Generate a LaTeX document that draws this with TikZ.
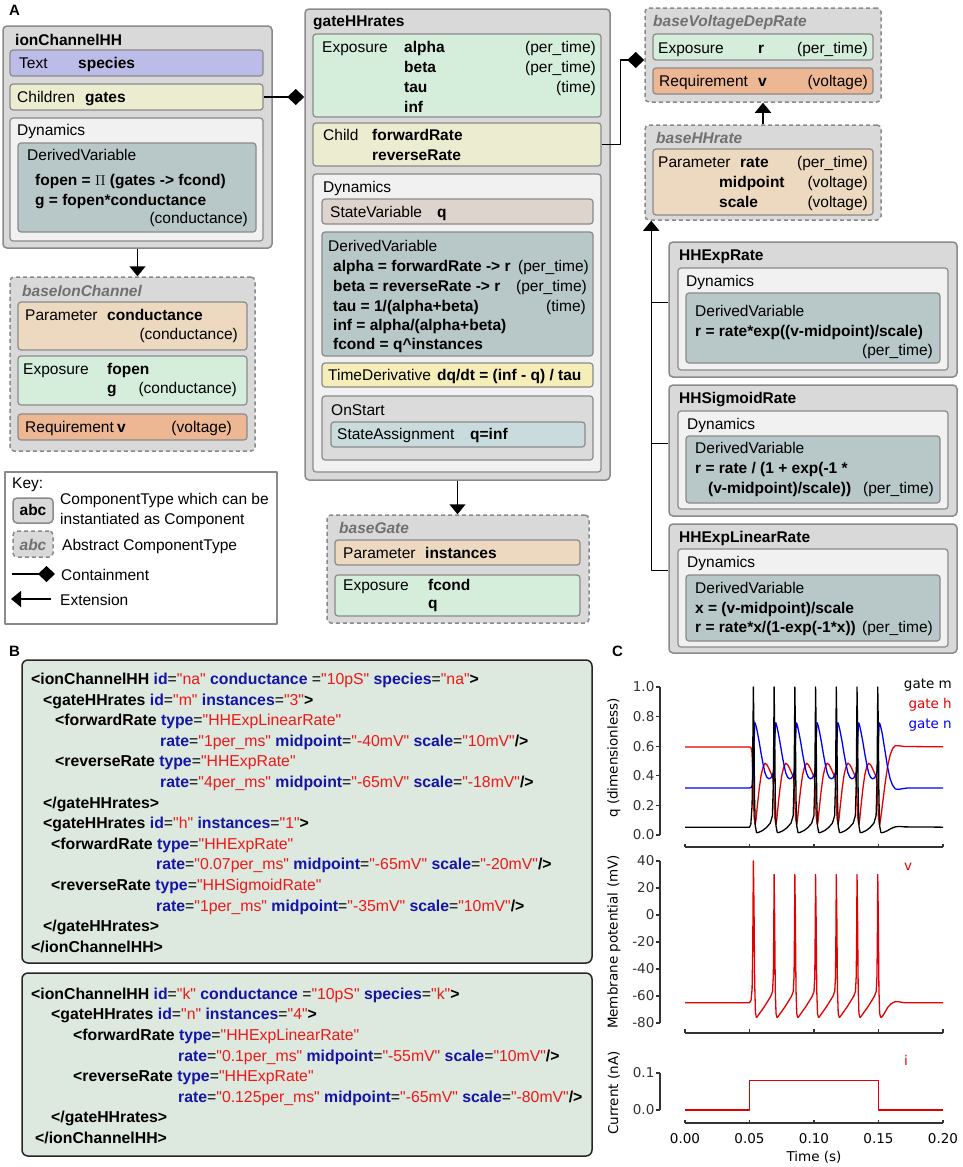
\documentclass[tikz,border=0pt]{standalone}
\usepackage{fontspec}
\setmainfont{Liberation Sans}[Ligatures=TeXOff]
\newfontfamily\plotfont{DejaVu Sans}
\usetikzlibrary{arrows.meta, fit, positioning}

\definecolor{boxfill}{RGB}{217,217,217}
\definecolor{boxline}{RGB}{138,138,138}
\definecolor{textbar}{RGB}{188,188,233}
\definecolor{childbar}{RGB}{236,236,208}
\definecolor{dynbox}{RGB}{241,241,241}
\definecolor{dvbox}{RGB}{184,199,199}
\definecolor{parbar}{RGB}{236,217,192}
\definecolor{expbar}{RGB}{213,238,220}
\definecolor{reqbar}{RGB}{236,183,146}
\definecolor{svbar}{RGB}{221,212,205}
\definecolor{tdbar}{RGB}{245,238,185}
\definecolor{osbox}{RGB}{219,219,219}
\definecolor{sabar}{RGB}{201,219,221}
\definecolor{codefill}{RGB}{221,232,222}
\definecolor{codeblue}{RGB}{20,20,165}
\definecolor{codered}{RGB}{235,25,25}
\definecolor{abstitle}{RGB}{112,112,112}
\definecolor{plotred}{RGB}{228,0,0}
\definecolor{plotblue}{RGB}{0,0,250}

\newcommand{\fs}{\fontsize{15.5}{18}\selectfont}
\newcommand{\cfs}{\fontsize{15.8}{18}\selectfont}
\newcommand{\pfs}{\plotfont\fontsize{13.5}{16}\selectfont}
\newcommand{\abst}[1]{\textcolor{abstitle}{\textbf{\textit{#1}}}}
\newcommand{\xtag}[1]{\textbf{#1}}
\newcommand{\xatt}[1]{\textcolor{codeblue}{\textbf{#1}}}
\newcommand{\xval}[1]{\textcolor{codered}{#1}}

% boxes and texts
\newcount\txn
\newcommand{\bx}[6]{\node[#2, fit={(#3,#4) (#5,#6)}] (#1) {};}
\newcommand{\tx}[3]{\global\advance\txn by 1 \node[txt] (tx\the\txn) at (#1,#2) {#3};}
\newcommand{\rtx}[3]{\global\advance\txn by 1 \node[rtxt] (tx\the\txn) at (#1,#2) {#3};}
\newcommand{\ctx}[3]{\global\advance\txn by 1 \node[ctxt] (tx\the\txn) at (#1,#2) {#3};}

\tikzset{
  comp/.style={draw=boxline, fill=boxfill, line width=1.5pt, rounded corners=4pt, inner sep=0pt},
  abstr/.style={comp, dash pattern=on 4pt off 3pt},
  bar/.style={draw=boxline, fill=#1, line width=1.2pt, rounded corners=3pt, inner sep=0pt},
  keybox/.style={draw=boxline, fill=white, line width=1.5pt, inner sep=0pt},
  codebox/.style={draw=black!85, fill=codefill, line width=1.5pt, rounded corners=6pt, inner sep=0pt},
  txt/.style={anchor=base west, inner sep=0pt, font=\fs},
  rtxt/.style={anchor=base east, inner sep=0pt, font=\fs},
  ctxt/.style={anchor=base west, inner sep=0pt, font=\cfs},
  lab/.style={anchor=base west, inner sep=0pt, font=\fontsize{15}{17}\selectfont\bfseries},
  plab/.style={inner sep=0pt, font=\pfs},
  conn/.style={line width=1.5pt},
  contain/.style={conn, -{Diamond[length=17pt,width=16pt]}},
  extend/.style={conn, -{Triangle[length=10pt,width=16pt]}},
  axis/.style={line width=1.2pt, black!80},
  trace/.style={line width=1.3pt, line join=round},
}

\begin{document}
\begin{tikzpicture}[x=1pt, y=-1pt, line join=round]
\useasboundingbox (0,0) rectangle (962,1167);

\node[lab] (labA) at (9,15) {A};
\node[lab] (labB) at (9,656) {B};
\node[lab] (labC) at (612,656) {C};

% ionChannelHH
\bx{ich}{comp}{3}{26}{272}{248}
\tx{15}{45}{\textbf{ionChannelHH}}
\bx{ichText}{bar=textbar}{10}{50}{263}{76}
\tx{19}{68}{Text}
\tx{78}{68}{\textbf{species}}
\bx{ichChildren}{bar=childbar}{10}{84}{263}{110}
\tx{17}{102}{Children}
\tx{85}{102}{\textbf{gates}}
\bx{ichDyn}{bar=dynbox}{10}{118}{263}{241}
\tx{17}{135}{Dynamics}
\bx{ichDV}{bar=dvbox}{18}{143}{256}{232}
\tx{27}{160}{DerivedVariable}
\tx{35}{185}{\textbf{fopen = $\Pi$ (gates -> fcond)}}
\tx{35}{205}{\textbf{g = fopen*conductance}}
\rtx{248}{223}{(conductance)}

% baseIonChannel
\bx{bic}{abstr}{10}{277}{255}{451}
\tx{22}{296}{\abst{baseIonChannel}}
\bx{bicPar}{bar=parbar}{18}{302}{247}{350}
\tx{25}{320}{Parameter}
\tx{107}{320}{\textbf{conductance}}
\rtx{238}{339}{(conductance)}
\bx{bicExp}{bar=expbar}{18}{356}{247}{405}
\tx{23}{374}{Exposure}
\tx{107}{374}{\textbf{fopen}}
\tx{107}{393}{\textbf{g}}
\rtx{237}{393}{(conductance)}
\bx{bicReq}{bar=reqbar}{18}{414}{247}{440}
\tx{25}{432}{Requirement}
\tx{117}{432}{\textbf{v}}
\rtx{232}{432}{(voltage)}

% key
\bx{key}{keybox}{5}{472}{277}{624}
\tx{12}{488}{Key:}
\bx{keyComp}{comp}{13}{498}{53}{523}
\node[txt, anchor=base] (keyCompTxt) at (33,515) {\textbf{abc}};
\tx{60}{504}{ComponentType which can be}
\tx{60}{524}{instantiated as Component}
\bx{keyAbs}{abstr}{13}{531}{53}{557}
\node[txt, anchor=base] (keyAbsTxt) at (33,550) {\abst{abc}};
\tx{62}{550}{Abstract ComponentType}
\coordinate (keyC1) at (12,574);
\coordinate (keyC2) at (55,574);
\draw[contain] (keyC1) -- (keyC2);
\tx{61}{580}{Containment}
\coordinate (keyE1) at (51,599);
\coordinate (keyE2) at (11,599);
\draw[extend] (keyE1) -- (keyE2);
\tx{60}{605}{Extension}

% gateHHrates
\bx{ghh}{comp}{305}{9}{610}{480}
\tx{313}{27}{\textbf{gateHHrates}}
\bx{ghhExp}{bar=expbar}{313}{34}{601}{117}
\tx{322}{52}{Exposure}
\tx{404}{52}{\textbf{alpha}}
\tx{404}{72}{\textbf{beta}}
\tx{404}{92}{\textbf{tau}}
\tx{404}{112}{\textbf{inf}}
\rtx{596}{52}{(per\_time)}
\rtx{596}{72}{(per\_time)}
\rtx{596}{92}{(time)}
\bx{ghhChild}{bar=childbar}{313}{123}{601}{166}
\tx{323}{140}{Child}
\tx{372}{140}{\textbf{forwardRate}}
\tx{372}{160}{\textbf{reverseRate}}
\bx{ghhDyn}{bar=dynbox}{313}{174}{601}{472}
\tx{323}{192}{Dynamics}
\bx{ghhSV}{bar=svbar}{322}{199}{593}{224}
\tx{330}{217}{StateVariable}
\tx{437}{217}{\textbf{q}}
\bx{ghhDV}{bar=dvbox}{322}{232}{593}{356}
\tx{328}{251}{DerivedVariable}
\tx{333}{271}{\textbf{alpha = forwardRate -> r}}
\tx{333}{291}{\textbf{beta = reverseRate -> r}}
\tx{333}{311}{\textbf{tau = 1/(alpha+beta)}}
\tx{333}{330}{\textbf{inf = alpha/(alpha+beta)}}
\tx{333}{349}{\textbf{fcond = q\textasciicircum instances}}
\rtx{589}{271}{(per\_time)}
\rtx{587}{291}{(per\_time)}
\rtx{586}{311}{(time)}
\bx{ghhTD}{bar=tdbar}{322}{363}{593}{387}
\tx{328}{380}{TimeDerivative}
\tx{437}{380}{\textbf{dq/dt = (inf - q) / tau}}
\bx{ghhOS}{bar=osbox}{322}{396}{593}{460}
\tx{331}{415}{OnStart}
\bx{ghhSA}{bar=sabar}{331}{422}{585}{447}
\tx{337}{439}{StateAssignment}
\tx{470}{439}{\textbf{q=inf}}

% baseGate
\bx{bg}{abstr}{327}{515}{589}{623}
\tx{339}{533}{\abst{baseGate}}
\bx{bgPar}{bar=parbar}{335}{540}{580}{565}
\tx{343}{558}{Parameter}
\tx{425}{558}{\textbf{instances}}
\bx{bgExp}{bar=expbar}{335}{575}{580}{616}
\tx{343}{590}{Exposure}
\tx{428}{590}{\textbf{fcond}}
\tx{428}{608}{\textbf{q}}

% baseVoltageDepRate
\bx{bvdr}{abstr}{645}{8}{881}{102}
\tx{653}{27}{\abst{baseVoltageDepRate}}
\bx{bvdrExp}{bar=expbar}{653}{34}{873}{60}
\tx{658}{53}{Exposure}
\tx{758}{53}{\textbf{r}}
\rtx{868}{53}{(per\_time)}
\bx{bvdrReq}{bar=reqbar}{653}{68}{873}{94}
\tx{659}{86}{Requirement}
\tx{758}{86}{\textbf{v}}
\rtx{868}{86}{(voltage)}

% baseHHrate
\bx{bhh}{abstr}{645}{125}{881}{220}
\tx{656}{143}{\abst{baseHHrate}}
\bx{bhhPar}{bar=parbar}{653}{149}{873}{215}
\tx{658}{167}{Parameter}
\tx{740}{167}{\textbf{rate}}
\tx{719}{187}{\textbf{midpoint}}
\tx{719}{207}{\textbf{scale}}
\rtx{868}{167}{(per\_time)}
\rtx{868}{187}{(voltage)}
\rtx{868}{207}{(voltage)}

% HHExpRate
\bx{hher}{comp}{669}{242}{957}{377}
\tx{679}{260}{\textbf{HHExpRate}}
\bx{hherDyn}{bar=dynbox}{678}{268}{948}{370}
\tx{686}{286}{Dynamics}
\bx{hherDV}{bar=dvbox}{686}{293}{940}{363}
\tx{695}{316}{DerivedVariable}
\tx{695}{336}{\textbf{r = rate*exp((v-midpoint)/scale)}}
\rtx{933}{355}{(per\_time)}

% HHSigmoidRate
\bx{hhsr}{comp}{669}{385}{957}{516}
\tx{679}{403}{\textbf{HHSigmoidRate}}
\bx{hhsrDyn}{bar=dynbox}{678}{411}{948}{509}
\tx{687}{429}{Dynamics}
\bx{hhsrDV}{bar=dvbox}{686}{436}{940}{503}
\tx{695}{453}{DerivedVariable}
\tx{695}{473}{\textbf{r = rate / (1 + exp(-1 *}}
\tx{708}{493}{\textbf{(v-midpoint)/scale))}}
\rtx{934}{493}{(per\_time)}

% HHExpLinearRate
\bx{hhelr}{comp}{669}{524}{957}{653}
\tx{679}{542}{\textbf{HHExpLinearRate}}
\bx{hhelrDyn}{bar=dynbox}{678}{549}{948}{647}
\tx{687}{567}{Dynamics}
\bx{hhelrDV}{bar=dvbox}{686}{575}{940}{641}
\tx{695}{593}{DerivedVariable}
\tx{695}{613}{\textbf{x = (v-midpoint)/scale}}
\tx{695}{632}{\textbf{r = rate*x/(1-exp(-1*x))}}
\rtx{933}{632}{(per\_time)}

% connectors
\draw[contain] (ichChildren.east) -- (ichChildren.east -| ghh.west);
\draw[extend] (ich.south) -- (ich.south |- bic.north);
\draw[extend] (ghh.south) -- (ghh.south |- bg.north);
\draw[contain] (ghhChild.east) -- ++(19,0) |- ([yshift=-5pt]bvdr.west);
\draw[extend] (bhh.north) -- (bvdr.south);
\draw[extend] ([yshift=18pt]hhelr.west) -| ([xshift=7pt]bhh.south west);
\draw[conn] ([yshift=7pt]hher.west) -- ++(-17,0);
\draw[conn] ([yshift=7pt]hhsr.west) -- ++(-17,0);

% B: sodium channel
\bx{codeNa}{codebox}{22}{660}{592}{963}
\ctx{31}{684.5}{\xtag{<ionChannelHH} \xatt{id}=\xval{"na"} \xatt{conductance} =\xval{"10pS"} \xatt{species}=\xval{"na"}\xtag{>}}
\ctx{43}{705.1}{\xtag{<gateHHrates} \xatt{id}=\xval{"m"} \xatt{instances}=\xval{"3"}\xtag{>}}
\ctx{55}{725.7}{\xtag{<forwardRate} \xatt{type}=\xval{"HHExpLinearRate"}}
\ctx{160}{746.3}{\xatt{rate}=\xval{"1per\_ms"} \xatt{midpoint}=\xval{"-40mV"} \xatt{scale}=\xval{"10mV"}\xtag{/>}}
\ctx{55}{766.9}{\xtag{<reverseRate} \xatt{type}=\xval{"HHExpRate"}}
\ctx{160}{787.5}{\xatt{rate}=\xval{"4per\_ms"} \xatt{midpoint}=\xval{"-65mV"} \xatt{scale}=\xval{"-18mV"}\xtag{/>}}
\ctx{43}{808.1}{\xtag{</gateHHrates>}}
\ctx{43}{828.7}{\xtag{<gateHHrates} \xatt{id}=\xval{"h"} \xatt{instances}=\xval{"1"}\xtag{>}}
\ctx{51}{849.3}{\xtag{<forwardRate} \xatt{type}=\xval{"HHExpRate"}}
\ctx{156}{869.9}{\xatt{rate}=\xval{"0.07per\_ms"} \xatt{midpoint}=\xval{"-65mV"} \xatt{scale}=\xval{"-20mV"}\xtag{/>}}
\ctx{51}{890.5}{\xtag{<reverseRate} \xatt{type}=\xval{"HHSigmoidRate"}}
\ctx{156}{911.1}{\xatt{rate}=\xval{"1per\_ms"} \xatt{midpoint}=\xval{"-35mV"} \xatt{scale}=\xval{"10mV"}\xtag{/>}}
\ctx{43}{931.7}{\xtag{</gateHHrates>}}
\ctx{31}{952.3}{\xtag{</ionChannelHH>}}

% B: potassium channel
\bx{codeK}{codebox}{22}{973}{592}{1156}
\ctx{31}{999.2}{\xtag{<ionChannelHH} \xatt{id}=\xval{"k"} \xatt{conductance} =\xval{"10pS"} \xatt{species}=\xval{"k"}\xtag{>}}
\ctx{51}{1019.8}{\xtag{<gateHHrates} \xatt{id}=\xval{"n"} \xatt{instances}=\xval{"4"}\xtag{>}}
\ctx{73}{1040.4}{\xtag{<forwardRate} \xatt{type}=\xval{"HHExpLinearRate"}}
\ctx{178}{1061}{\xatt{rate}=\xval{"0.1per\_ms"} \xatt{midpoint}=\xval{"-55mV"} \xatt{scale}=\xval{"10mV"}\xtag{/>}}
\ctx{73}{1081.6}{\xtag{<reverseRate} \xatt{type}=\xval{"HHExpRate"}}
\ctx{178}{1102.2}{\xatt{rate}=\xval{"0.125per\_ms"} \xatt{midpoint}=\xval{"-65mV"} \xatt{scale}=\xval{"-80mV"}\xtag{/>}}
\ctx{51}{1122.8}{\xtag{</gateHHrates>}}
\ctx{35}{1143.4}{\xtag{</ionChannelHH>}}

% C: gate variables
\begin{scope}[shift={(685,835)}, x=1.29pt, y=148pt]
  \draw[axis] (-19.4,0) -- (-19.4,1);
  \foreach \yv [count=\k] in {0.0,0.2,0.4,0.6,0.8,1.0}
    \draw[axis] (-19.4,\yv) -- (-22.5,\yv) node[plab, anchor=east, xshift=-1pt] (qt\k) {\yv};
  \draw[axis] (0,-0.081) -- (200,-0.081);
  \foreach \t in {0,50,...,200}
    \draw[axis] (\t,-0.081) -- (\t,-0.062);
  % gate h
  \draw[trace, plotred] (0,0.595) -- (50,0.595) -- (51,0.592) -- (51.8,0.57) -- (52.5,0.45) -- (53,0.25) -- (53.6,0.12) -- (54.3,0.07);
  \foreach \s in {53,69.07,85.14,101.21,117.28,133.35}
    \draw[trace, plotred] (\s+1.3,0.07) -- (\s+2,0.1) -- (\s+3,0.19) -- (\s+4.5,0.31) -- (\s+6,0.405) -- (\s+7.5,0.46) -- (\s+9,0.485) -- (\s+10.5,0.475) -- (\s+12,0.45) -- (\s+13.5,0.42) -- (\s+15,0.39) -- (\s+15.7,0.33) -- (\s+16.07,0.22) -- (\s+16.6,0.12) -- (\s+17.37,0.07);
  \draw[trace, plotred] (150.72,0.07) -- (151.5,0.1) -- (153,0.2) -- (155,0.34) -- (157,0.46) -- (159,0.54) -- (161,0.585) -- (163,0.603) -- (166,0.603) -- (170,0.598) -- (200,0.596);
  % gate n
  \draw[trace, plotblue] (0,0.318) -- (50,0.318) -- (51.5,0.322) -- (52.4,0.34) -- (53,0.45) -- (53.6,0.65) -- (54.2,0.76);
  \foreach \s in {53,69.07,85.14,101.21,117.28,133.35}
    \draw[trace, plotblue] (\s+1.2,0.76) -- (\s+2,0.74) -- (\s+3,0.7) -- (\s+4.5,0.63) -- (\s+6,0.55) -- (\s+7.5,0.48) -- (\s+9,0.42) -- (\s+10.5,0.39) -- (\s+12,0.38) -- (\s+13.5,0.385) -- (\s+14.8,0.405) -- (\s+15.6,0.43) -- (\s+16.07,0.5) -- (\s+16.67,0.66) -- (\s+17.27,0.76);
  \draw[trace, plotblue] (150.62,0.76) -- (151.5,0.74) -- (153,0.68) -- (155,0.57) -- (157,0.46) -- (159,0.38) -- (161,0.335) -- (163,0.312) -- (165,0.308) -- (168,0.312) -- (172,0.317) -- (200,0.318);
  % gate m
  \draw[trace, black] (0,0.053) -- (50,0.053) -- (51,0.07) -- (52,0.2) -- (52.5,0.55) -- (53,1) -- (53.4,0.75) -- (53.9,0.25) -- (54.5,0.06) -- (55.5,0.015);
  \foreach \s in {69.07,85.14,101.21,117.28,133.35,149.42}
    \draw[trace, black] (\s-13.57,0.015) -- (\s-12,0.018) -- (\s-9,0.03) -- (\s-6,0.05) -- (\s-3,0.08) -- (\s-1.3,0.13) -- (\s-0.6,0.35) -- (\s-0.2,0.75) -- (\s,1) -- (\s+0.4,0.75) -- (\s+0.9,0.25) -- (\s+1.5,0.06) -- (\s+2.5,0.015);
  \draw[trace, black] (151.92,0.015) -- (154,0.018) -- (157,0.03) -- (160,0.045) -- (163,0.055) -- (166,0.058) -- (170,0.055) -- (200,0.053);
\end{scope}
\node[plab, anchor=base east] (legM) at (952,688) {gate m};
\node[plab, anchor=base east, text=plotred] (legH) at (952,708) {gate h};
\node[plab, anchor=base east, text=plotblue] (legN) at (952,728) {gate n};

% C: membrane potential
\begin{scope}[shift={(685,915)}, x=1.29pt, y=1.35pt]
  \draw[axis] (-19.4,-80) -- (-19.4,40);
  \foreach \yv [count=\k] in {40,20,0,-20,-40,-60,-80}
    \draw[axis] (-19.4,\yv) -- (-22.5,\yv) node[plab, anchor=east, xshift=-1pt] (vt\k) {\yv};
  \draw[axis] (0,-87.4) -- (200,-87.4);
  \foreach \t in {0,50,...,200}
    \draw[axis] (\t,-87.4) -- (\t,-84.8);
  \draw[trace, plotred] (0,-65) -- (50,-65) -- (51.2,-63) -- (52,-55) -- (52.5,-25) -- (53,40) -- (53.5,5) -- (54,-50) -- (54.6,-72) -- (55.3,-76);
  \foreach \s in {69.07,85.14,101.21,117.28,133.35,149.42}
    \draw[trace, plotred] (\s-13.77,-76) -- (\s-12.8,-75) -- (\s-11,-72.5) -- (\s-8,-68.5) -- (\s-5,-64) -- (\s-2.5,-60) -- (\s-1.2,-56.5) -- (\s-0.6,-45) -- (\s-0.25,-10) -- (\s,30) -- (\s+0.4,0) -- (\s+0.9,-55) -- (\s+1.5,-73) -- (\s+2.3,-76);
  \draw[trace, plotred] (151.72,-76) -- (153,-75.2) -- (155,-72) -- (157.5,-68) -- (160,-65.5) -- (163,-64.2) -- (166,-64.3) -- (170,-65) -- (200,-65);
\end{scope}
\node[plab, text=plotred] (legV) at (908,867) {v};

% C: current
\begin{scope}[shift={(685,1110)}, x=1.29pt, y=370pt]
  \draw[axis] (-19.4,0) -- (-19.4,0.1);
  \foreach \yv [count=\k] in {0.0,0.1}
    \draw[axis] (-19.4,\yv) -- (-22.5,\yv) node[plab, anchor=east, xshift=-1pt] (it\k) {\yv};
  \draw[axis] (0,-0.035) -- (200,-0.035);
  \foreach \t/\lab [count=\k] in {0/0.00,50/0.05,100/0.10,150/0.15,200/0.20} {
    \draw[axis] (\t,-0.035) -- (\t,-0.027);
    \node[plab] (tt\k) at (\t,-0.076) {\lab};
  }
  \draw[trace, plotred] (0,0) -- (50,0) -- (50,0.08) -- (150,0.08) -- (150,0) -- (200,0);
\end{scope}
\node[plab, text=plotred] (legI) at (906,1060) {i};
\node[plab] (timeLab) at (814,1157) {Time (s)};

\node[plab, rotate=90] (ylabQ) at (614,758) {q (dimensionless)};
\node[plab, rotate=90] (ylabV) at (614,942) {Membrane potential (mV)};
\node[plab, rotate=90] (ylabI) at (614,1093) {Current (nA)};

\end{tikzpicture}
\end{document}
